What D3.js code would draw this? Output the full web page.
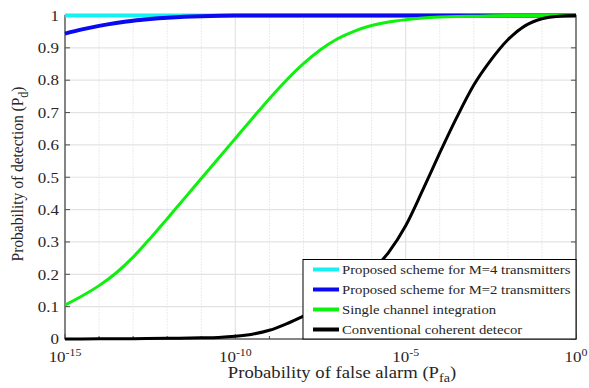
<!DOCTYPE html>
<html>
<head>
<meta charset="utf-8">
<script src="https://cdn.jsdelivr.net/npm/d3@7"></script>
<style>
  body { margin: 0; background: #fff; }
  text { font-family: "Liberation Serif", "Times New Roman", serif; fill: #262626; }
</style>
</head>
<body>
<svg id="chart" width="589" height="388"></svg>
<script>
// log10 of Pfa for each sample, and Pd
const cyanExp = [-15, -10, -5, 0];
const cyanPd  = [1, 1, 1, 1];

const blueExp = [-15, -14.5, -14, -13.5, -13, -12.5, -12, -11.5, -11, -10, -5, 0];
const bluePd  = [0.944, 0.957, 0.968, 0.977, 0.984, 0.989, 0.993, 0.996, 0.998, 1, 1, 1];

const greenExp = [-15, -14.5, -14, -13.5, -13, -12.5, -12, -11.5, -11, -10.5, -10, -9.5, -9,
                  -8.5, -8, -7.5, -7, -6.5, -6, -5.5, -5, -4.5, -4, -3.5, -3, -2, -1, 0];
const greenPd  = [0.105, 0.133, 0.165, 0.204, 0.253, 0.311, 0.372, 0.434, 0.496, 0.558, 0.62, 0.682, 0.743,
                  0.80, 0.851, 0.894, 0.928, 0.952, 0.969, 0.98, 0.987, 0.992, 0.995, 0.997, 0.998, 1, 1, 1];

const blackExp = [-15, -14, -13, -12, -11, -10.5, -10, -9.5, -9, -8.5, -8, -7.5, -7, -6.5, -6, -5.5, -5,
                  -4.5, -4, -3.5, -3, -2.5, -2, -1.5, -1, -0.5, 0];
const blackPd  = [0, 0.0005, 0.001, 0.002, 0.0035, 0.005, 0.0085, 0.015, 0.027, 0.047, 0.071, 0.097, 0.127, 0.165, 0.21, 0.268, 0.35,
                  0.46, 0.575, 0.685, 0.785, 0.862, 0.925, 0.968, 0.99, 0.998, 1];

const seriesNames = ["Proposed scheme for M=4 transmitters", "Proposed scheme for M=2 transmitters",
                     "Single channel integration", "Conventional coherent detecor"];
const seriesColors = ["#16f0f0", "#0a0af0", "#0ef00e", "#000000"];

const xTickExp = [-15, -10, -5, 0];
const xMinorExp = d3.range(-15, 1);
const yTicks = d3.range(0, 11).map(d => d / 10);
const yTickLabels = ["0", "0.1", "0.2", "0.3", "0.4", "0.5", "0.6", "0.7", "0.8", "0.9", "1"];

const svg = d3.select("#chart");
const pL = 65, pR = 576, pT = 15.5, pB = 339;
const sx = 1.13; // the original figure is a bit wider than tall

const x = d3.scaleLog().domain([1e-15, 1]).range([pL, pR]);
const y = d3.scaleLinear().domain([0, 1]).range([pB, pT]);

// grid
svg.append("g").selectAll("line").data(xMinorExp.filter(e => e % 5 !== 0)).join("line")
  .attr("x1", e => x(Math.pow(10, e))).attr("x2", e => x(Math.pow(10, e)))
  .attr("y1", pT).attr("y2", pB)
  .attr("stroke", "#d6d6d6").attr("stroke-width", 1).attr("stroke-dasharray", "1,2");
svg.append("g").selectAll("line").data(xTickExp).join("line")
  .attr("x1", e => x(Math.pow(10, e))).attr("x2", e => x(Math.pow(10, e)))
  .attr("y1", pT).attr("y2", pB)
  .attr("stroke", "#e3e3e3").attr("stroke-width", 1.2);
svg.append("g").selectAll("line").data(yTicks).join("line")
  .attr("x1", pL).attr("x2", pR)
  .attr("y1", d => y(d)).attr("y2", d => y(d))
  .attr("stroke", "#e3e3e3").attr("stroke-width", 1.2);

// axes box
const axisCol = "#4d4d4d";
svg.append("rect").attr("x", pL).attr("y", pT).attr("width", pR - pL).attr("height", pB - pT)
  .attr("fill", "none").attr("stroke", axisCol).attr("stroke-width", 1.3);

// ticks (inward)
const tk = svg.append("g").attr("stroke", axisCol).attr("stroke-width", 1);
tk.selectAll(".yl").data(yTicks).join("line").attr("class", "yl")
  .attr("x1", pL).attr("x2", pL + 5).attr("y1", d => y(d)).attr("y2", d => y(d));
tk.selectAll(".yr").data(yTicks).join("line").attr("class", "yr")
  .attr("x1", pR).attr("x2", pR - 5).attr("y1", d => y(d)).attr("y2", d => y(d));
tk.selectAll(".xb").data(xMinorExp).join("line").attr("class", "xb")
  .attr("x1", e => x(Math.pow(10, e))).attr("x2", e => x(Math.pow(10, e)))
  .attr("y1", pB).attr("y2", e => pB - (e % 5 === 0 ? 5 : 3));

// tick labels
svg.append("g").selectAll("text").data(yTicks).join("text")
  .attr("transform", d => `translate(${pL - 6},${y(d)}) scale(${sx},1)`)
  .attr("dy", "0.35em")
  .attr("text-anchor", "end").attr("font-size", 15)
  .text((d, i) => yTickLabels[i]);

const xl = svg.append("g").selectAll("text").data(xTickExp).join("text")
  .attr("transform", e => `translate(${x(Math.pow(10, e))},361.5) scale(${sx},1)`)
  .attr("text-anchor", "middle").attr("font-size", 15);
xl.append("tspan").text("10");
xl.append("tspan").attr("font-size", 10.5).attr("dy", -6).text(e => e === 0 ? "0" : "-" + Math.abs(e));

// axis titles
const xt = svg.append("text")
  .attr("transform", `translate(342,378) scale(${sx},1)`)
  .attr("text-anchor", "middle").attr("font-size", 16.5);
xt.append("tspan").text("Probability of false alarm (P");
xt.append("tspan").attr("font-size", 12.5).attr("dy", 4).text("fa");
xt.append("tspan").attr("dy", -4).text(")");

const yt = svg.append("text")
  .attr("transform", `translate(23,174) rotate(-90) scale(1,${sx})`)
  .attr("text-anchor", "middle").attr("font-size", 15.5);
yt.append("tspan").text("Probability of detection (P");
yt.append("tspan").attr("font-size", 12).attr("dy", 4).text("d");
yt.append("tspan").attr("dy", -4).text(")");

// curves
const series = [
  { exp: cyanExp, pd: cyanPd, w: 4 },
  { exp: blueExp, pd: bluePd, w: 4 },
  { exp: greenExp, pd: greenPd, w: 3 },
  { exp: blackExp, pd: blackPd, w: 3 }
];
const line = d3.line().curve(d3.curveMonotoneX)
  .x(d => x(Math.pow(10, d[0]))).y(d => y(d[1]));
series.forEach((s, i) => {
  svg.append("path")
    .datum(s.exp.map((e, k) => [e, s.pd[k]]))
    .attr("d", line)
    .attr("fill", "none").attr("stroke", seriesColors[i]).attr("stroke-width", s.w)
    .attr("stroke-linejoin", "round");
});

// legend
const lg = svg.append("g");
lg.append("rect").attr("x", 303).attr("y", 259.5).attr("width", pR - 303).attr("height", pB - 259.5)
  .attr("fill", "#fff").attr("stroke", "#000").attr("stroke-width", 1);
seriesNames.forEach((n, i) => {
  const cy = 269.5 + i * 20;
  lg.append("line").attr("x1", 313).attr("x2", 339).attr("y1", cy).attr("y2", cy)
    .attr("stroke", seriesColors[i]).attr("stroke-width", 4);
  lg.append("text").attr("transform", `translate(342,${cy}) scale(${sx},1)`).attr("dy", "0.33em")
    .attr("font-size", 13).attr("fill", "#000").text(n);
});
</script>
</body>
</html>
